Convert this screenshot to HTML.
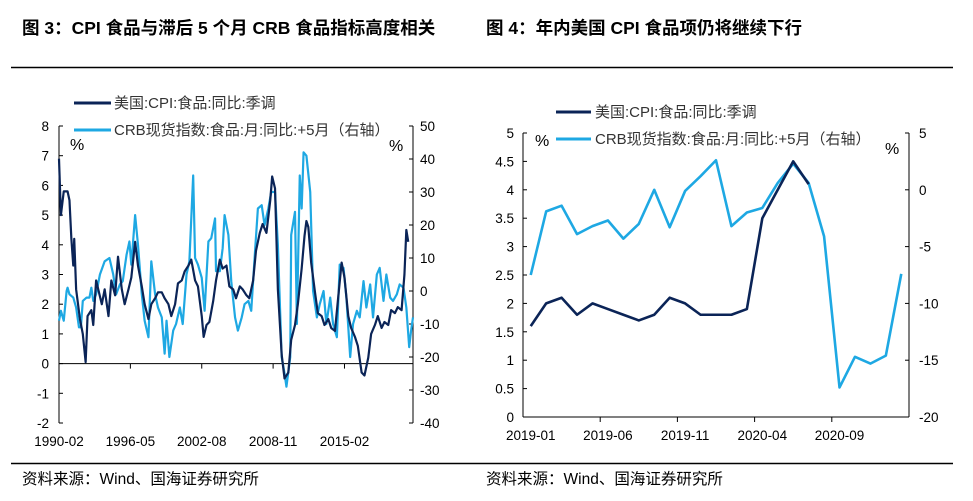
<!DOCTYPE html>
<html><head><meta charset="utf-8">
<style>
body{margin:0;background:#fff;width:973px;height:501px;overflow:hidden;font-family:"Liberation Sans","Noto Sans CJK SC",sans-serif;}
svg{position:absolute;left:0;top:0}
</style></head>
<body>
<svg width="973" height="501" id="svg" font-family="Liberation Sans, Noto Sans CJK SC, sans-serif">
<text x="22" y="34" font-size="17.5" font-weight="bold" fill="#000">图 3：CPI 食品与滞后 5 个月 CRB 食品指标高度相关</text>
<text x="486" y="34" font-size="17.5" font-weight="bold" fill="#000">图 4：年内美国 CPI 食品项仍将继续下行</text>
<line x1="11" y1="67.5" x2="953" y2="67.5" stroke="#000" stroke-width="1.5"/>
<line x1="11" y1="463.5" x2="953" y2="463.5" stroke="#000" stroke-width="1.5"/>
<text x="22" y="484" font-size="15.5" fill="#000">资料来源：Wind、国海证券研究所</text>
<text x="486" y="484" font-size="15.5" fill="#000">资料来源：Wind、国海证券研究所</text>
<g id="c1"></g>
<g id="c2"></g>
</svg>
<script>
// ---- Chart 1 data (months since 1990-02) ----
const c1CpiMonths=[0,2,5,9,11,13,15,16,18,22,25,28,30,34,36,39,45,48,52,55,59,62,66,69,73,76,80,83,87,90,94,97,101,104,108,111,115,118,122,125,129,132,136,139,143,146,150,152,155,158,162,165,169,172,176,179,183,186,190,193,197,200,204,207,211,214,218,222,224,227,230,234,237,241,244,248,251,255,258,260,262,265,269,272,276,279,283,286,290,293,297,300,304,307,311,314,318,321,325,328,332,335,339,342,346,349,353,356,360,363,365,367];
const c1CpiValues=[6.9,5.0,5.8,5.8,5.5,4.2,3.3,4.2,2.5,1.5,1.0,0.05,1.6,1.8,1.3,2.8,2.0,2.5,1.6,2.8,2.3,3.6,2.5,2.0,2.5,2.9,4.1,3.3,2.6,2.0,1.5,2.0,2.2,2.4,2.4,2.2,2.0,1.6,2.0,2.7,2.8,3.1,3.3,3.5,2.8,2.6,1.6,0.9,1.3,1.4,2.1,2.8,3.5,3.2,3.3,2.6,2.5,2.2,2.6,2.5,2.3,2.2,2.8,3.8,4.4,4.7,4.4,5.5,6.3,5.9,2.5,0.3,-0.5,-0.3,0.8,1.3,2.0,3.2,4.3,4.8,4.6,3.4,2.4,1.7,1.6,1.3,1.5,1.2,1.1,2.1,3.4,2.9,1.6,1.2,0.9,0.6,-0.3,-0.4,0.2,1.0,1.3,1.6,1.2,1.4,1.3,1.8,1.7,1.9,1.8,3.0,4.5,4.1];
const c1CrbMonths=[0,2,5,8,9,11,15,18,21,23,25,29,32,34,36,39,43,48,53,57,60,64,67,71,74,76,80,83,87,90,94,97,101,104,108,111,113,116,120,123,127,130,134,137,141,143,146,150,153,157,160,164,165,169,172,174,178,181,185,188,192,195,199,202,206,209,213,216,220,223,227,230,234,237,239,243,244,248,250,253,255,257,260,264,267,271,274,278,281,285,288,292,295,299,302,306,309,313,316,320,323,327,330,334,337,341,344,348,351,355,358,362,365,368,370,372];
const c1CrbValues=[-9,-6,-9,0,1,-1,-2,-5,-11,-11,-3,-2,-2,1,-3,-1,5,9,10,5,-1,2,3,11,15,8,23,14,-1,-9,-14,9,-1,-5,-8,-19,-9,-20,-12,-10,-5,-10,5,9,35,10,8,4,-6,15,16,22,6,6,13,23,17,3,-8,-12,-8,-4,-3,-6,12,25,26,20,25,30,30,14,-20,-25,-29,-20,17,24,-10,35,25,42,41,30,0,-8,-4,0,-10,-2,-10,-14,8,7,-2,-20,-10,-6,-8,3,-5,2,-8,5,7,-3,5,-2,-3,-1,2,1,-5,-17,-12,-8];
const c1LeftTicks=[8,7,6,5,4,3,2,1,0,-1,-2];
const c1RightTicks=[50,40,30,20,10,0,-10,-20,-30,-40];
const c1XLabels=["1990-02","1996-05","2002-08","2008-11","2015-02"];
const c1XLabelMonths=[0,75,150,225,300];
// ---- Chart 2 data ----
const c2Categories=["2019-01","2019-02","2019-03","2019-04","2019-05","2019-06","2019-07","2019-08","2019-09","2019-10","2019-11","2019-12","2020-01","2020-02","2020-03","2020-04","2020-05","2020-06","2020-07","2020-08","2020-09","2020-10","2020-11","2020-12","2021-01"];
const c2CpiValues=[1.6,2.0,2.1,1.8,2.0,1.9,1.8,1.7,1.8,2.1,2.0,1.8,1.8,1.8,1.9,3.5,4.0,4.5,4.1];
const c2CrbValues=[-7.5,-1.9,-1.4,-3.9,-3.2,-2.7,-4.3,-3.0,0,-3.3,-0.1,1.2,2.6,-3.2,-2.0,-1.6,0.6,2.3,0.6,-4.1,-17.4,-14.7,-15.3,-14.6,-7.4];
const c2LeftTicks=[5,4.5,4,3.5,3,2.5,2,1.5,1,0.5,0];
const c2RightTicks=[5,0,-5,-10,-15,-20];
const c2XLabels=["2019-01","2019-06","2019-11","2020-04","2020-09"];

const NS="http://www.w3.org/2000/svg";
function mk(parent,tag,attrs,text){const e=document.createElementNS(NS,tag);for(const k in attrs)e.setAttribute(k,attrs[k]);if(text!==undefined)e.textContent=text;parent.appendChild(e);return e;}
const DARK="#0b2457",LIGHT="#1ea8e3";
const TF=13.5,LF=15;

// ---- Chart 1 ----
(function(){
const g=document.getElementById('c1');
const X0=59,X1=413,YT=126,YB=423;
const xm=m=>X0+(X1-X0)*m/372;
const yl=v=>YB-(v+2)/10*(YB-YT);
const yr=v=>YB-(v+40)/90*(YB-YT);
let a=mk(g,'line',{x1:X0,y1:YT,x2:X0,y2:YB,stroke:'#000','stroke-width':1});

a=mk(g,'line',{x1:X1,y1:YT,x2:X1,y2:YB,stroke:'#000','stroke-width':1});

c1LeftTicks.forEach(v=>{const y=yl(v);mk(g,'line',{x1:X0,y1:y,x2:X0+4,y2:y,stroke:'#000'});
 const t=mk(g,'text',{x:X0-10,y:y+5,'font-size':TF,'text-anchor':'end'},String(v));
 });
c1RightTicks.forEach(v=>{const y=yr(v);mk(g,'line',{x1:X1-4,y1:y,x2:X1,y2:y,stroke:'#000'});
 const t=mk(g,'text',{x:X1+7,y:y+5,'font-size':TF},String(v));
 });
const y0=yl(0);
a=mk(g,'line',{x1:X0,y1:y0,x2:X1,y2:y0,stroke:'#000','stroke-width':1});

c1XLabelMonths.forEach((m,i)=>{const x=xm(m);if(i>0)mk(g,'line',{x1:x,y1:y0,x2:x,y2:y0+5,stroke:'#000'});
 const t=mk(g,'text',{x:x,y:446,'font-size':TF,'text-anchor':'middle'},c1XLabels[i]);
 });
let p=mk(g,'polyline',{points:c1CrbMonths.map((m,i)=>xm(m)+','+yr(c1CrbValues[i])).join(' '),fill:'none',stroke:LIGHT,'stroke-width':2.2,'stroke-linejoin':'round'});

p=mk(g,'polyline',{points:c1CpiMonths.map((m,i)=>xm(m)+','+yl(c1CpiValues[i])).join(' '),fill:'none',stroke:DARK,'stroke-width':2.2,'stroke-linejoin':'round'});

let t=mk(g,'text',{x:70,y:150,'font-size':16},'%');
t=mk(g,'text',{x:389,y:151,'font-size':16},'%');
let l=mk(g,'line',{x1:74,y1:103,x2:111,y2:103,stroke:DARK,'stroke-width':3});
t=mk(g,'text',{x:114,y:108,'font-size':LF,fill:'#333'},'美国:CPI:食品:同比:季调');
l=mk(g,'line',{x1:74,y1:130,x2:111,y2:130,stroke:LIGHT,'stroke-width':3});
t=mk(g,'text',{x:114,y:135,'font-size':LF,fill:'#333'},'CRB现货指数:食品:月:同比:+5月（右轴）');
})();

// ---- Chart 2 ----
(function(){
const g=document.getElementById('c2');
const X0=523,X1=909,YT=133,YB=417;
const bw=(X1-X0)/c2Categories.length;
const xc=i=>X0+bw*(i+0.5);
const yl=v=>YB-v/5*(YB-YT);
const yr=v=>YB-(v+20)/25*(YB-YT);
let a=mk(g,'line',{x1:X0,y1:YT,x2:X0,y2:YB,stroke:'#000'});
a=mk(g,'line',{x1:X1,y1:YT,x2:X1,y2:YB,stroke:'#000'});
a=mk(g,'line',{x1:X0,y1:YB,x2:X1,y2:YB,stroke:'#000'});
c2LeftTicks.forEach(v=>{const y=yl(v);mk(g,'line',{x1:X0,y1:y,x2:X0+4,y2:y,stroke:'#000'});
 const t=mk(g,'text',{x:X0-9,y:y+5,'font-size':TF,'text-anchor':'end'},String(v));
 });
c2RightTicks.forEach(v=>{const y=yr(v);mk(g,'line',{x1:X1-4,y1:y,x2:X1,y2:y,stroke:'#000'});
 const t=mk(g,'text',{x:X1+10,y:y+5,'font-size':TF},String(v));
 });
c2Categories.forEach((c,i)=>{const lab=c2XLabels.indexOf(c);
 if(lab>0){const x=X0+bw*i;mk(g,'line',{x1:x,y1:YB,x2:x,y2:YB+5,stroke:'#000'});}
 if(lab>=0){const t=mk(g,'text',{x:xc(i),y:440,'font-size':TF,'text-anchor':'middle'},c);
 }});
let p=mk(g,'polyline',{points:c2CrbValues.map((v,i)=>xc(i)+','+yr(v)).join(' '),fill:'none',stroke:LIGHT,'stroke-width':2.6,'stroke-linejoin':'round'});

p=mk(g,'polyline',{points:c2CpiValues.map((v,i)=>xc(i)+','+yl(v)).join(' '),fill:'none',stroke:DARK,'stroke-width':2.6,'stroke-linejoin':'round'});

let t=mk(g,'text',{x:535,y:146,'font-size':16},'%');
t=mk(g,'text',{x:885,y:154,'font-size':16},'%');
let l=mk(g,'line',{x1:556,y1:112,x2:591,y2:112,stroke:DARK,'stroke-width':3});
t=mk(g,'text',{x:595,y:117,'font-size':LF,fill:'#333'},'美国:CPI:食品:同比:季调');
l=mk(g,'line',{x1:556,y1:139,x2:591,y2:139,stroke:LIGHT,'stroke-width':3});
t=mk(g,'text',{x:595,y:144,'font-size':LF,fill:'#333'},'CRB现货指数:食品:月:同比:+5月（右轴）');
})();
</script>
</body></html>
